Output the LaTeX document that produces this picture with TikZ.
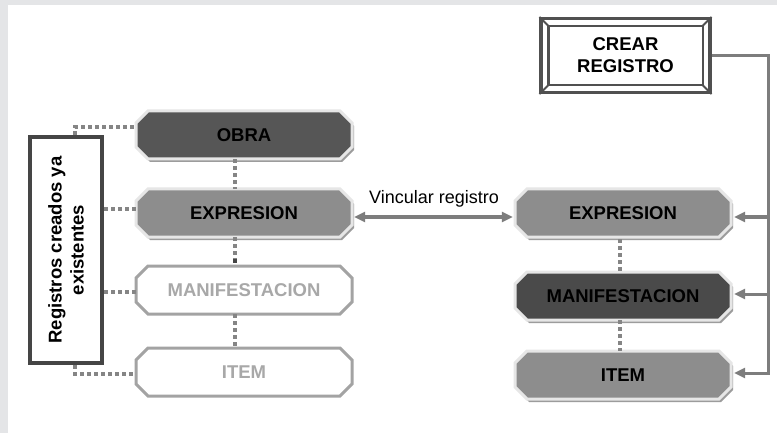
\documentclass[tikz,border=0pt]{standalone}
\usepackage{fontspec}
\setmainfont{Liberation Sans}
\usetikzlibrary{arrows.meta,calc}
\definecolor{bggray}{HTML}{E4E5E7}
\definecolor{shadowc}{HTML}{9C9C9C}
\definecolor{lightborder}{HTML}{E6E6E6}
\definecolor{darkfill}{HTML}{565656}
\definecolor{darkerfill}{HTML}{4A4A4A}
\definecolor{midfill}{HTML}{8D8D8D}
\definecolor{ghostline}{HTML}{A3A3A3}
\definecolor{ghosttext}{HTML}{A8A8A8}
\definecolor{dotc}{HTML}{858585}
\definecolor{connc}{HTML}{7D7D7D}
\definecolor{framec}{HTML}{505050}
\definecolor{boxc}{HTML}{454545}
\tikzset{
  bigbold/.style={font=\fontsize{18.5}{22}\selectfont\bfseries},
  octtext/.style={rectangle, minimum width=216pt, minimum height=48pt, inner sep=0pt, bigbold},
  filledocto/.style={fill=#1, draw=lightborder, line width=3pt,
     preaction={fill=shadowc, transform canvas={xshift=2pt,yshift=-3pt}}},
  ghostocto/.style={fill=white, draw=ghostline, line width=3pt},
  dots/.style={draw=dotc, line width=3.5pt, dash pattern=on 3.5pt off 3.5pt},
  conn/.style={draw=connc, line width=3pt},
  tip/.style={-{Triangle[length=11pt,width=10pt]}},
}
\newcommand\octo[7]{%
  \begin{scope}[shift={(#2,#3)}]
    \path[#5] (-96,-24) -- (96,-24) -- (108,-12) -- (108,12) -- (96,24)
       -- (-96,24) -- (-108,12) -- (-108,-12) -- cycle;
    \node[octtext, text=#6] (#1) at (0,0) {#7};
  \end{scope}}
\begin{document}
\begin{tikzpicture}[x=1pt,y=-1pt]
\useasboundingbox (0,0) rectangle (777,433);
\fill[bggray] (0,0) rectangle (777,433);
\fill[white] (8,5) rectangle (777,433);

% left column
\octo{obra}{244}{135}{}{filledocto=darkfill}{black}{OBRA}
\octo{exl}{244}{213}{}{filledocto=midfill}{black}{EXPRESION}
\octo{manl}{244}{290}{}{ghostocto}{ghosttext}{MANIFESTACION}
\octo{itl}{244}{372}{}{ghostocto}{ghosttext}{ITEM}

% right column
\octo{exr}{623}{213}{}{filledocto=midfill}{black}{EXPRESION}
\octo{manr}{623}{296}{}{filledocto=darkerfill}{black}{MANIFESTACION}
\octo{itr}{623}{375}{}{filledocto=midfill}{black}{ITEM}

% crear registro
\node[draw=framec, line width=3.2pt, minimum width=169pt, minimum height=74pt,
      inner sep=0pt, align=center, bigbold] (crear) at (625.5,55.5) {CREAR\\REGISTRO};
\draw[framec, line width=2.2pt] ($(crear.north west)+(9,9)$) rectangle ($(crear.south east)+(-9,-9)$);
\draw[framec, line width=1.8pt]
  (crear.north west) -- ($(crear.north west)+(9,9)$)
  (crear.north east) -- ($(crear.north east)+(-9,9)$)
  (crear.south west) -- ($(crear.south west)+(9,-9)$)
  (crear.south east) -- ($(crear.south east)+(-9,-9)$);

% registros box
\node[draw=boxc, line width=4pt, minimum width=72pt, minimum height=226pt, inner sep=0pt] (box) at (66,250) {};
\node[rotate=90, align=center, bigbold] (boxtext) at (66,250) {Registros creados ya\\existentes};

% dotted connectors (left)
\draw[dots] ($(box.north)+(9,0)$) |- ($(obra.west)+(0,-8)$);
\draw[dots] ($(box.east)+(0,-41)$) -- ($(exl.west)+(0,-4)$);
\draw[dots] ($(box.east)+(0,42)$) -- ($(manl.west)+(0,2)$);
\draw[dots] ($(box.south)+(9,0)$) |- ($(itl.west)+(0,2)$);
\draw[dots] ($(obra.south)+(-9,0)$) -- ($(exl.north)+(-9,0)$);
\draw[dots, -{Square[length=4pt,width=4pt,color=boxc]}] ($(exl.south)+(-9,0)$) -- ($(manl.north)+(-9,-3)$);
\draw[dots] ($(manl.south)+(-9,0)$) -- ($(itl.north)+(-9,0)$);

% dotted connectors (right)
\draw[dots] ($(exr.south)+(-3,2)$) -- ($(manr.north)+(-3,0)$);
\draw[dots] ($(manr.south)+(-3,0)$) -- ($(itr.north)+(-3,0)$);

% vincular
\draw[conn, {Triangle[length=11pt,width=10pt]}-{Triangle[length=11pt,width=10pt]}]
  ($(exl.east)+(2,4)$) -- ($(exr.west)+(-2,4)$);
\node[font=\fontsize{18}{22}\selectfont] (vlab) at (434,199) {Vincular registro};

% crear bus
\coordinate (bus) at (768,0);
\draw[conn] (crear.east) -- (crear.east -| bus) -- (bus |- itr.east);
\draw[conn, tip] ($(bus |- exr.east)+(0,4)$) -- ($(exr.east)+(3,4)$);
\draw[conn, tip] ($(bus |- manr.east)+(0,-2)$) -- ($(manr.east)+(3,-2)$);
\draw[conn, tip] ($(bus |- itr.east)+(0,-2)$) -- ($(itr.east)+(3,-2)$);
\end{tikzpicture}
\end{document}
